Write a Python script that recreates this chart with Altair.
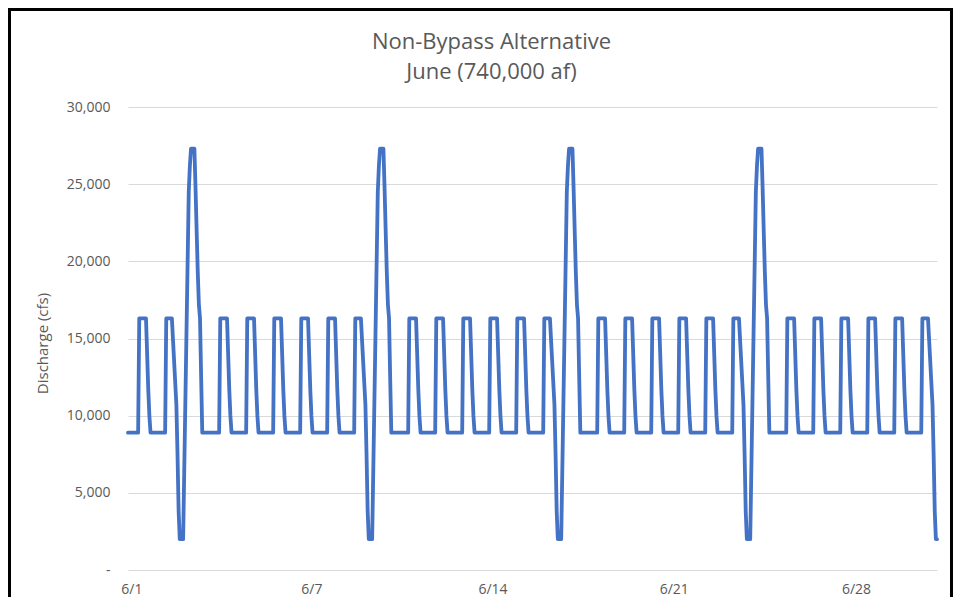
import altair as alt
import pandas as pd

# Hourly discharge profiles (cfs)
normal_day = [8900, 8900, 8900, 8900, 8900, 8900, 8900, 8900, 8900, 8900,
              16300, 16300, 16300, 16300, 16300, 16300, 16300,
              14000, 11700, 10000, 8900, 8900, 8900, 8900]
spike_day_a = [8900, 8900, 8900, 8900, 8900, 8900, 8900, 8900, 8900, 8900,
               16300, 16300, 16300, 16300, 16300, 16300,
               14900, 13500, 12100, 10700, 7500, 3800, 2000, 2000]
spike_day_b = [2000, 2000, 6500, 11000, 15500, 20000, 24500, 26200,
               27300, 27300, 27300, 27300, 24800, 22000, 19300, 17200,
               16300, 12500, 8900, 8900, 8900, 8900, 8900, 8900]

day_types = ["N", "A", "B", "N", "N", "N", "N", "N", "A", "B",
             "N", "N", "N", "N", "N", "A", "B", "N", "N", "N",
             "N", "N", "A", "B", "N", "N", "N", "N", "N", "A"]

tick_hours = [3, 163, 324, 485, 647]
tick_labels = ["6/1", "6/7", "6/14", "6/21", "6/28"]
y_ticks = [0, 5000, 10000, 15000, 20000, 25000, 30000]

profiles = {"N": normal_day, "A": spike_day_a, "B": spike_day_b}
values = []
for t in day_types:
    values.extend(profiles[t])
df = pd.DataFrame({"hour": list(range(len(values))), "cfs": values})

label_expr = " : ".join(
    [f"datum.value == {h} ? '{l}'" for h, l in zip(tick_hours, tick_labels)]
) + " : ''"

FONT = "Open Sans"
GREY = "#595959"

line = alt.Chart(df).mark_line(
    color="#4472C4", strokeWidth=3.8, strokeJoin="round", strokeCap="round"
).encode(
    x=alt.X("hour:Q",
            scale=alt.Scale(domain=[0, 719], nice=False, zero=False),
            axis=alt.Axis(values=tick_hours, labelExpr=label_expr, grid=False,
                          ticks=False, domain=False, title=None,
                          labelFont=FONT, labelFontSize=14, labelColor=GREY,
                          labelPadding=12)),
    y=alt.Y("cfs:Q",
            scale=alt.Scale(domain=[0, 30000], nice=False),
            axis=alt.Axis(values=y_ticks,
                          labelExpr="datum.value == 0 ? '-\u00a0\u00a0' : format(datum.value, ',')",
                          grid=True, gridColor="#d9d9d9", gridWidth=1,
                          ticks=False, domain=False,
                          labelFont=FONT, labelFontSize=14, labelColor=GREY,
                          labelPadding=18,
                          title="Discharge (cfs)", titleFont=FONT,
                          titleFontSize=15, titleFontWeight="normal",
                          titleColor=GREY, titleX=-78, titleY=236,
                          titleAngle=-90, titleAlign="center",
                          titleBaseline="bottom")),
)

border = alt.Chart(alt.Data(values=[{"b": 1}])).mark_rect(
    fillOpacity=0, stroke="black", strokeWidth=3
).encode(
    x=alt.value(-118.5), x2=alt.value(823.5), y=alt.value(-97.5), y2=alt.value(520)
)

chart = alt.layer(line, border).properties(
    width=809, height=463,
    autosize=alt.AutoSizeParams(type="none"),
    padding={"left": 120, "top": 99, "right": 16, "bottom": 27},
    title=alt.TitleParams(
        text=["Non-Bypass Alternative", "June (740,000 af)"],
        font=FONT, fontSize=22, fontWeight="normal", color=GREY,
        anchor="middle", dx=-41, offset=0, dy=76, lineHeight=30),
).configure_view(stroke=None)

chart.save("out.html", embed_options={"renderer": "svg", "actions": False})
